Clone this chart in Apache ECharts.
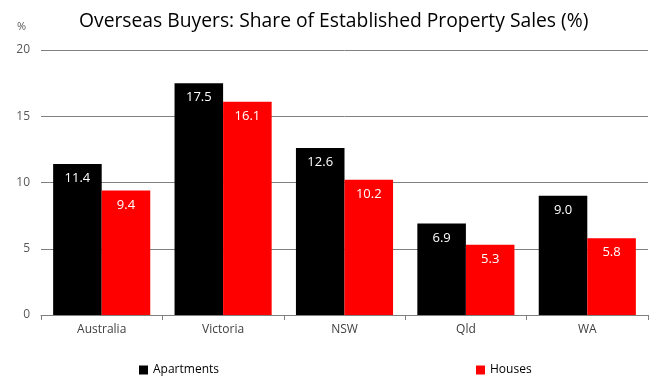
<!DOCTYPE html>
<html><head><meta charset="utf-8">
<script src="https://cdn.jsdelivr.net/npm/echarts@6/dist/echarts.min.js"></script>
<style>html,body{margin:0;padding:0;background:#fff}#c{width:660px;height:391px}</style>
</head><body><div id="c"></div>
<script>
const categories = ['Australia','Victoria','NSW','Qld','WA'];
const apartments = [11.4, 17.5, 12.6, 6.9, 9.0];
const houses = [9.4, 16.1, 10.2, 5.3, 5.8];
const yTicks = [0, 5, 10, 15, 20];

const font = 'Open Sans';
const chart = echarts.init(document.getElementById('c'));
const lbl = {show:true, position:'insideTop', distance:8, color:'#fff', fontFamily:font, fontSize:13, formatter: p => p.value.toFixed(1)};
chart.setOption({
  animation:false,
  title:{text:'Overseas Buyers: Share of Established Property Sales (%)', left:74, top:7,
    textStyle:{fontFamily:font, fontWeight:'normal', fontSize:19.3, color:'#000'}},
  graphic:[{type:'text', left:17, top:21, style:{text:'%', fontFamily:font, fontSize:11, fill:'#595959'}}],
  legend:[
    {data:['Apartments'], left:134, top:359, itemWidth:9, itemHeight:9, icon:'rect', textStyle:{fontFamily:font, fontSize:12, color:'#000'}, itemGap:4},
    {data:['Houses'], left:471, top:359, itemWidth:9, itemHeight:9, icon:'rect', textStyle:{fontFamily:font, fontSize:12, color:'#000'}}
  ],
  grid:{left:41, right:12, top:50, bottom:76},
  xAxis:{type:'category', data:categories,
    axisLine:{lineStyle:{color:'#808080'}},
    axisTick:{show:true, length:5, lineStyle:{color:'#808080'}},
    axisLabel:{fontFamily:font, fontSize:12, color:'#404040', margin:9}},
  yAxis:{type:'value', min:0, max:20, interval:5,
    axisLabel:{fontFamily:font, fontSize:12, color:'#595959', margin:11, formatter: v => yTicks.includes(v) ? String(v) : ''},
    splitLine:{lineStyle:{color:'#808080', width:1}},
    axisTick:{show:false},
    axisLine:{show:false}},
  series:[
    {name:'Apartments', type:'bar', data:apartments, barGap:'0%', barCategoryGap:'20%', itemStyle:{color:'#000'}, label:lbl},
    {name:'Houses', type:'bar', data:houses, barGap:'0%', barCategoryGap:'20%', itemStyle:{color:'#ff0000'}, label:lbl}
  ]
});
</script></body></html>
